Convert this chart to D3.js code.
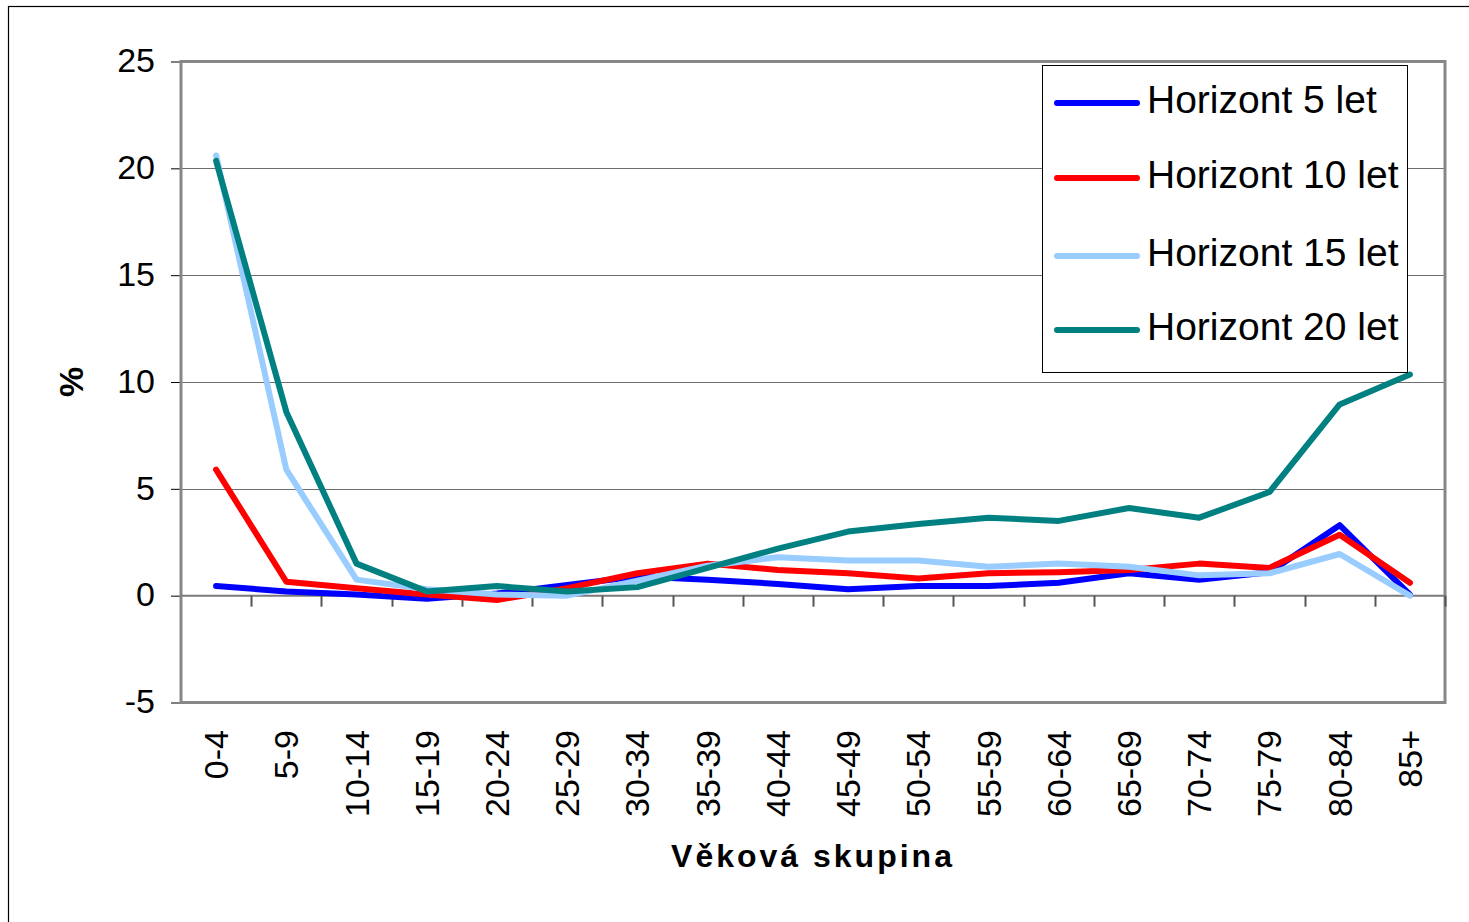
<!DOCTYPE html>
<html>
  <head>
    <meta charset="utf-8">
    <title>Horizonty - věková skupina</title>
    <script src="https://d3js.org/d3.v7.min.js"></script>
    <style>
      body { margin: 0; background: #fff; }
      svg { display: block; font-family: "Liberation Sans", Arial, sans-serif; }
    </style>
  </head>
  <body>
  <svg id="chart" width="1469" height="922"></svg>
  <script>
    // kategorie (věkové skupiny)
    var categories = ["0-4", "5-9", "10-14", "15-19", "20-24", "25-29", "30-34", "35-39", "40-44",
      "45-49", "50-54", "55-59", "60-64", "65-69", "70-74", "75-79", "80-84", "85+"];

    // hodnoty v %
    var horizont5  = [0.45, 0.2, 0.05, -0.15, 0.1, 0.5, 0.9, 0.75, 0.55, 0.3, 0.45, 0.45, 0.6, 1.05, 0.75, 1.1, 3.3, 0.05];
    var horizont10 = [5.9, 0.65, 0.35, 0.05, -0.2, 0.35, 1.05, 1.5, 1.2, 1.05, 0.8, 1.05, 1.1, 1.2, 1.5, 1.3, 2.85, 0.6];
    var horizont15 = [20.6, 5.9, 0.75, 0.3, 0.05, 0.0, 0.7, 1.4, 1.8, 1.65, 1.65, 1.35, 1.5, 1.35, 0.95, 1.05, 1.95, 0.0];
    var horizont20 = [20.35, 8.6, 1.5, 0.2, 0.45, 0.2, 0.4, 1.3, 2.2, 3.0, 3.35, 3.65, 3.5, 4.1, 3.65, 4.85, 8.95, 10.35];

    var seriesNames = ["Horizont 5 let", "Horizont 10 let", "Horizont 15 let", "Horizont 20 let"];
    var seriesColors = ["#0000ff", "#ff0000", "#99ccff", "#008080"];
    var yTicks = [-5, 0, 5, 10, 15, 20, 25];

    var series = [horizont5, horizont10, horizont15, horizont20];

    var plotLeft = 181, plotRight = 1445, plotTop = 61.5, plotBottom = 702.5;

    var svg = d3.select("#chart");

    // vnější rámeček
    svg.append("rect")
      .attr("x", 8.5).attr("y", 6.5)
      .attr("width", 1500).attr("height", 1000)
      .attr("fill", "none").attr("stroke", "#000").attr("stroke-width", 1.2);

    var x = d3.scalePoint()
      .domain(categories)
      .range([plotLeft, plotRight])
      .padding(0.5);

    var y = d3.scaleLinear()
      .domain([-5, 25])
      .range([plotBottom, plotTop]);

    var step = x.step();

    // mřížka
    svg.append("g")
      .selectAll("line")
      .data(yTicks.filter(function(d) { return d !== -5 && d !== 25 && d !== 0; }))
      .enter().append("line")
      .attr("x1", plotLeft).attr("x2", plotRight)
      .attr("y1", function(d) { return Math.round(y(d)) + 0.5; })
      .attr("y2", function(d) { return Math.round(y(d)) + 0.5; })
      .attr("stroke", "#6e6e6e").attr("stroke-width", 1);

    // osa Y
    var yAxis = d3.axisLeft(y)
      .tickValues(yTicks)
      .tickFormat(function(d) { return String(d); })
      .tickSize(10).tickPadding(16);
    var gy = svg.append("g")
      .attr("transform", "translate(" + plotLeft + ",0)")
      .call(yAxis);
    gy.select(".domain").remove();
    gy.selectAll(".tick line").attr("stroke", "#000").attr("stroke-width", 1);
    gy.selectAll(".tick text")
      .attr("font-size", 34).attr("fill", "#000")
      .attr("font-family", "Liberation Sans, Arial, sans-serif")
      .attr("dy", "0.3em");

    // rámeček oblasti grafu
    svg.append("rect")
      .attr("x", plotLeft).attr("y", plotTop)
      .attr("width", plotRight - plotLeft).attr("height", plotBottom - plotTop)
      .attr("fill", "none").attr("stroke", "#878787").attr("stroke-width", 3);

    // nulová osa a dílky
    svg.append("line")
      .attr("x1", plotLeft).attr("x2", plotRight)
      .attr("y1", y(0)).attr("y2", y(0))
      .attr("stroke", "#7a7a7a").attr("stroke-width", 2);

    svg.append("g")
      .selectAll("line")
      .data(categories)
      .enter().append("line")
      .attr("x1", function(d) { return Math.round(x(d) + step / 2) + 0.5; })
      .attr("x2", function(d) { return Math.round(x(d) + step / 2) + 0.5; })
      .attr("y1", y(0)).attr("y2", y(0) + 11)
      .attr("stroke", "#555").attr("stroke-width", 2);

    // popisky osy X
    svg.append("g")
      .selectAll("text")
      .data(categories)
      .enter().append("text")
      .attr("transform", function(d) { return "translate(" + (x(d) + 12) + ",730) rotate(-90)"; })
      .attr("text-anchor", "end")
      .attr("font-size", 34)
      .text(function(d) { return d; });

    // názvy os
    svg.append("text")
      .attr("x", 813).attr("y", 867)
      .attr("text-anchor", "middle")
      .attr("font-size", 32).attr("font-weight", "bold")
      .attr("letter-spacing", 3)
      .text("Věková skupina");

    svg.append("text")
      .attr("transform", "translate(83,382) rotate(-90)")
      .attr("text-anchor", "middle")
      .attr("font-size", 34).attr("font-weight", "bold")
      .text("%");

    // čáry
    var line = d3.line()
      .x(function(d, i) { return x(categories[i]); })
      .y(function(d) { return y(d); });

    svg.append("g")
      .selectAll("path")
      .data(series)
      .enter().append("path")
      .attr("d", line)
      .attr("fill", "none")
      .attr("stroke", function(d, i) { return seriesColors[i]; })
      .attr("stroke-width", 6)
      .attr("stroke-linejoin", "round")
      .attr("stroke-linecap", "round");

    // legenda
    var legend = svg.append("g").attr("transform", "translate(1042,65)");
    legend.append("rect")
      .attr("x", 0.5).attr("y", 0.5)
      .attr("width", 365).attr("height", 307)
      .attr("fill", "#fff").attr("stroke", "#000").attr("stroke-width", 1);

    var item = legend.selectAll("g.item")
      .data(seriesNames)
      .enter().append("g")
      .attr("class", "item")
      .attr("transform", function(d, i) { return "translate(0," + [38, 113, 191, 265][i] + ")"; });

    item.append("line")
      .attr("x1", 15).attr("x2", 95)
      .attr("stroke", function(d, i) { return seriesColors[i]; })
      .attr("stroke-width", 6)
      .attr("stroke-linecap", "round");

    item.append("text")
      .attr("x", 105).attr("dy", "0.26em")
      .attr("font-size", 39)
      .text(function(d) { return d; });
  </script>
  </body>
</html>
